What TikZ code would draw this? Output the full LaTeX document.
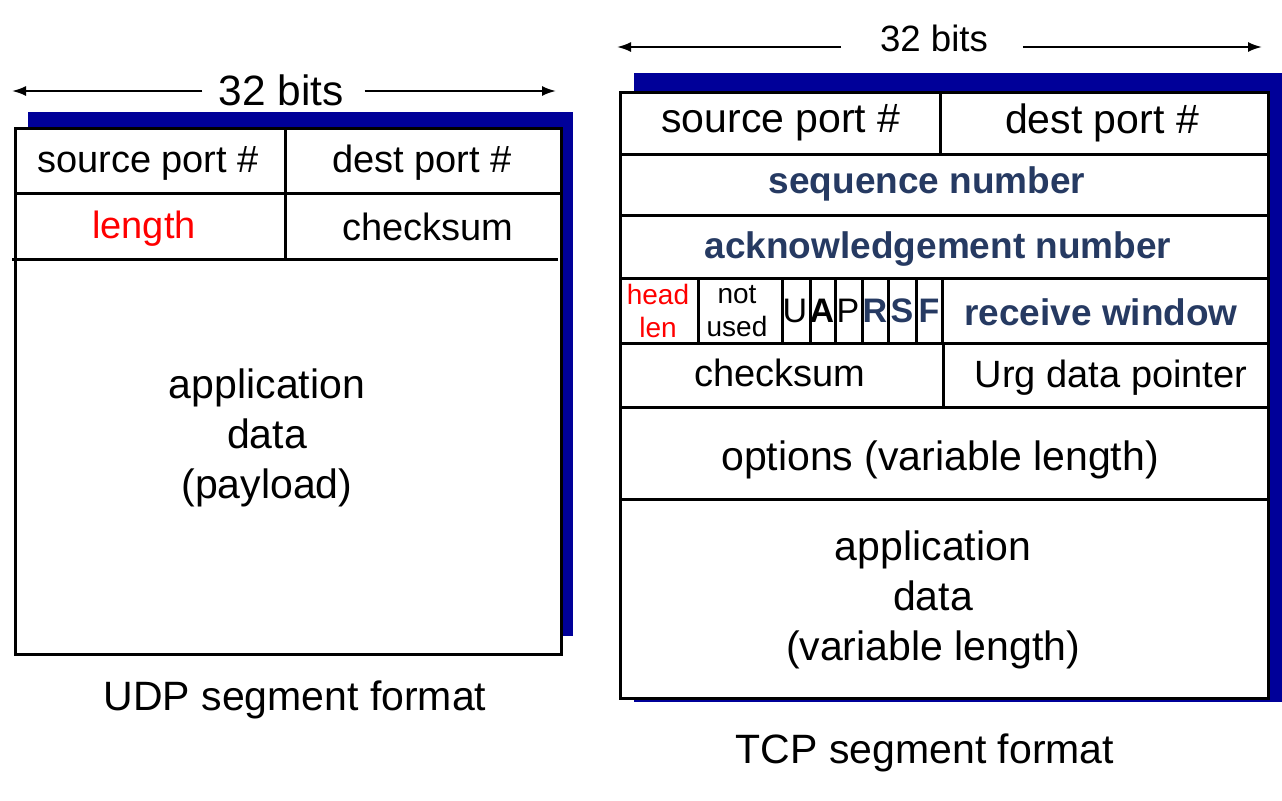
\documentclass[tikz,border=0pt]{standalone}
\usepackage{fontspec}
\setmainfont{Liberation Sans}
\usepackage{tikz}
\usetikzlibrary{arrows.meta}
\definecolor{shadowblue}{RGB}{0,0,153}
\definecolor{fieldblue}{RGB}{38,58,98}

\begin{document}
\begin{tikzpicture}[x=0.5pt, y=-0.5pt, >={Latex[length=7pt,width=5pt]},
    box/.style={line width=1.5pt},
    bitsarrow/.style={->, line width=1pt},
    big/.style={font=\fontsize{20.5pt}{25pt}\selectfont, align=center},
    cell/.style={font=\fontsize{19pt}{23pt}\selectfont},
    boldcell/.style={font=\fontsize{18.5pt}{22pt}\selectfont\bfseries, text=fieldblue},
    small/.style={font=\fontsize{14pt}{16.5pt}\selectfont, align=center},
    flag/.style={font=\fontsize{17pt}{20pt}\selectfont, inner sep=0pt},
    boldflag/.style={font=\fontsize{17pt}{20pt}\selectfont\bfseries, inner sep=0pt}]
    \useasboundingbox (0,0) rectangle (1282,800);

    %UDP
    \fill[shadowblue] (28,112) rectangle (573,636);
    \draw[box, fill=white] (15,128) rectangle (561,654);
    \draw[box] (285,128) -- (285,259);
    \draw[box] (15,193) -- (561,193);
    \draw[box] (12,259) -- (558,259);
    \node[cell] (udpsrc) at (148,163) {source port \#};
    \node[cell] (udpdst) at (422,163) {dest port \#};
    \node[cell, text=red] (udplen) at (144,229) {length};
    \node[cell] (udpsum) at (428,227) {checksum};
    \node[big] (udpdata) at (267,438) {application\\data\\(payload)};
    \node[big] (udpname) at (295,700) {UDP segment format};
    % 32 bits
    \node[font=\fontsize{21.2pt}{25pt}\selectfont] (udpbits) at (281,90) {32 bits};
    \coordinate (udpl) at (12,91);
    \coordinate (udpr) at (556,91);
    \draw[bitsarrow, shorten <=4.5pt] (udpbits.west |- udpl) -- (udpl);
    \draw[bitsarrow, shorten <=7pt] (udpbits.east |- udpr) -- (udpr);

    %TCP
    \fill[shadowblue] (634,73) rectangle (1282,702);
    \draw[box, fill=white] (620,92) rectangle (1268,698);
    \foreach \y in {154,215,278,343,407,499}
        \draw[box] (620,\y) -- (1268,\y);
    \draw[box] (940,92) -- (940,154);
    \draw[box] (943,343) -- (943,407);
    \foreach \x in {698,782,810,835,862,888,916,942}
        \draw[box] (\x,278) -- (\x,343);
    \node[big] (tcpsrc) at (781,123) {source port \#};
    \node[big] (tcpdst) at (1102,123) {dest port \#};
    \node[boldcell] (tcpseq) at (927,184) {sequence number};
    \node[boldcell] (tcpack) at (938,249) {acknowledgement number};
    \node[small, text=red] (tcphlen) at (658,311) {head\\len};
    \node[small] (tcpunused) at (737,311) {not\\used};
    \node[flag] (flagu) at (795,311) {U};
    \node[boldflag] (flaga) at (822,311) {A};
    \node[flag] (flagp) at (848,311) {P};
    \node[boldflag, text=fieldblue] (flagr) at (875,311) {R};
    \node[boldflag, text=fieldblue] (flags) at (902,311) {S};
    \node[boldflag, text=fieldblue] (flagf) at (929,311) {F};
    \node[boldcell] (tcpwin) at (1101,312) {receive window};
    \node[cell] (tcpsum) at (780,373) {checksum};
    \node[cell] (tcpurg) at (1111,378) {Urg data pointer};
    \node[big] (tcpopt) at (940,460) {options (variable length)};
    \node[big] (tcpdata) at (933,600) {application\\data\\(variable length)};
    \node[big] (tcpname) at (925,753) {TCP segment format};
    % 32 bits
    \node[font=\fontsize{18.3pt}{22pt}\selectfont] (tcpbits) at (934,38) {32 bits};
    \coordinate (tcpl) at (617,47);
    \coordinate (tcpr) at (1262,47);
    \draw[bitsarrow, shorten <=16pt] (tcpbits.west |- tcpl) -- (tcpl);
    \draw[bitsarrow, shorten <=14pt] (tcpbits.east |- tcpr) -- (tcpr);
\end{tikzpicture}
\end{document}
